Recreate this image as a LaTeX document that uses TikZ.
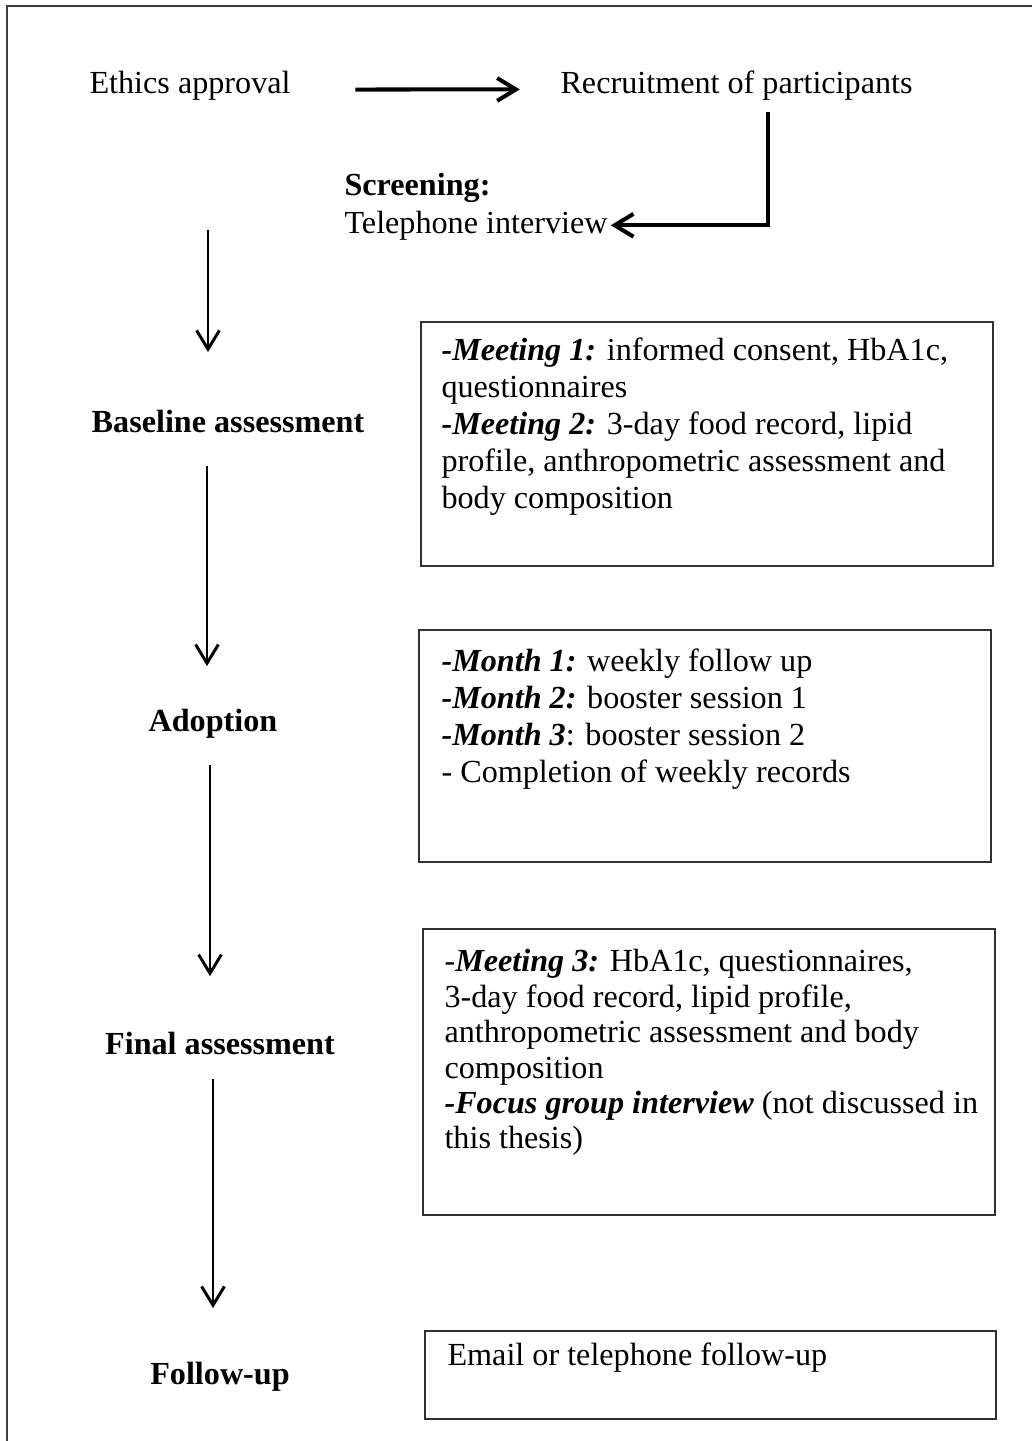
\documentclass[tikz,border=0pt]{standalone}
\usepackage{fontspec}
\setmainfont{Liberation Serif}
\usepackage{tikz}
\usetikzlibrary{arrows.meta}
\definecolor{frameGray}{RGB}{60,60,60}
\definecolor{boxGray}{RGB}{50,50,50}
\newcommand{\leadin}[1]{\textbf{\textit{#1}}}

\begin{document}
\begin{tikzpicture}[x=0.373pt,y=-0.373pt,
  lbl/.style={inner sep=0pt, font=\fontsize{12pt}{13.2pt}\selectfont},
  phaselbl/.style={lbl, anchor=base, font=\fontsize{12pt}{13.2pt}\selectfont\bfseries},
  boxtext/.style={lbl, anchor=north west, align=left},
  widetext/.style={boxtext, font=\fontsize{12pt}{13.8pt}\selectfont},
  infobox/.style={draw=boxGray, line width=0.6pt},
  flowarrow/.style={line width=1.1pt, -{Straight Barb[length=7pt,width=8.5pt]}},
  bigarrow/.style={flowarrow, line width=1.5pt}]
\useasboundingbox (0,0) rectangle (1032,1441);
\draw[frameGray, line width=0.9pt] (7,6) rectangle (1080,1480);

\node[lbl, anchor=base west] (ethics) at (89,93) {Ethics approval};
\node[lbl, anchor=base west] (recruit) at (560,93) {Recruitment of participants};
\node[lbl, anchor=base west, font=\fontsize{12pt}{13.2pt}\selectfont\bfseries] (screen) at (344,195) {Screening:};
\node[lbl, anchor=base west] (phone) at (344,233) {Telephone interview};
\coordinate (bend) at (768,0);
\coordinate (start) at (208,230);

\node[phaselbl] (base) at (228,432) {Baseline assessment};
\node[phaselbl] (adopt) at (213,731) {Adoption};
\node[phaselbl] (final) at (220,1054) {Final assessment};
\node[phaselbl] (follow) at (220,1384) {Follow-up};

\draw[bigarrow, shorten <=24pt, shorten >=15pt] ([yshift=-1.6pt]ethics.east) -- ([yshift=-1.6pt]recruit.west);
\draw[bigarrow, shorten <=4.5pt, shorten >=1pt] (recruit.south -| bend) |- (phone.east);
\draw[flowarrow, shorten >=21.3pt] (start) -- (start |- base.north);
\draw[flowarrow, shorten <=12.3pt, shorten >=15.7pt] (base.south -| 207,0) -- (adopt.north -| 207,0);
\draw[flowarrow, shorten <=10pt, shorten >=20.5pt] (adopt.south -| 210,0) -- (final.north -| 210,0);
\draw[flowarrow, shorten <=9pt, shorten >=19.8pt] (final.south -| 213,0) -- (follow.north -| 213,0);

\draw[infobox] (421,322) rectangle (993,566);
\node[widetext] (meet) at (441,337) {\leadin{-Meeting 1:} informed consent, HbA1c,\\
questionnaires\\
\leadin{-Meeting 2:} 3-day food record, lipid\\
profile, anthropometric assessment and\\
body composition};

\draw[infobox] (419,630) rectangle (991,862);
\node[widetext] (months) at (441,648) {\leadin{-Month 1:} weekly follow up\\
\leadin{-Month 2:} booster session 1\\
\leadin{-Month 3}: booster session 2\\
- Completion of weekly records};

\draw[infobox] (423,929) rectangle (995,1215);
\node[boxtext] (meet3) at (444,949) {-\leadin{Meeting 3:} HbA1c, questionnaires,\\
3-day food record, lipid profile,\\
anthropometric assessment and body\\
composition\\
\leadin{-Focus group interview} (not discussed in\\
this thesis)};

\draw[infobox] (425,1331) rectangle (996,1419);
\node[boxtext] (contact) at (447,1342) {Email or telephone follow-up};
\end{tikzpicture}
\end{document}
